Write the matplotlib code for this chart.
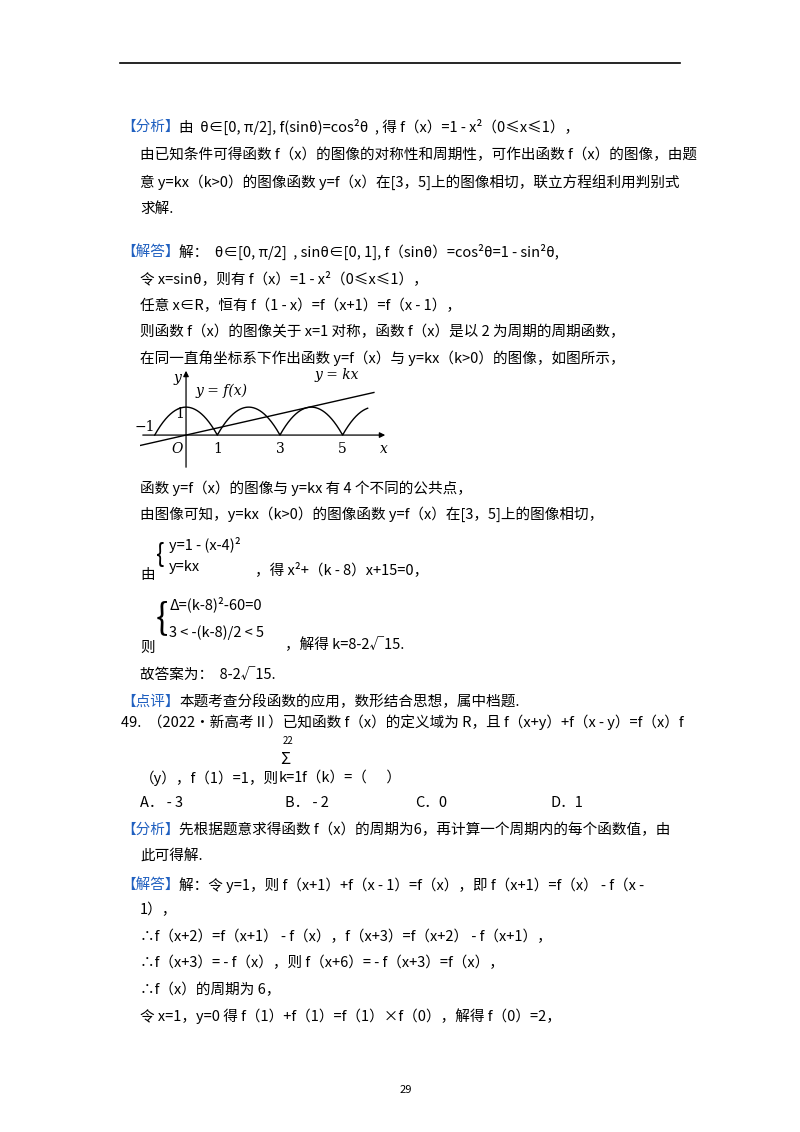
import numpy as np
import matplotlib
matplotlib.use("Agg")
import matplotlib.pyplot as plt

plt.rcParams['font.family'] = ['Noto Sans CJK SC', 'DejaVu Sans']
W, H = 800, 1132
fig = plt.figure(figsize=(8, 11.32), dpi=100)

BLUE = '#2060c0'
FS = 10.5

def T(x, y, s, c='black', fs=FS, **kw):
    fig.text(x / W, 1 - y / H, s, color=c, fontsize=fs, va='center', ha='left', **kw)

def L(x, y, label, rest):
    T(x, y, label, c=BLUE)
    T(x + 58, y, rest)

# top rule
fig.add_artist(plt.Line2D([120 / W, 680 / W], [1 - 63 / H] * 2, color='black', lw=1.2))

lines_labeled = [
    (121, 127, '【分析】', '由  θ∈[0, π/2], f(sinθ)=cos²θ  , 得 f（x）=1 - x²（0≤x≤1），'),
    (121, 252, '【解答】', '解：  θ∈[0, π/2]  , sinθ∈[0, 1], f（sinθ）=cos²θ=1 - sin²θ,'),
    (121, 702, '【点评】', '本题考查分段函数的应用，数形结合思想，属中档题.'),
    (121, 830, '【分析】', '先根据题意求得函数 f（x）的周期为6，再计算一个周期内的每个函数值，由'),
    (121, 885, '【解答】', '解：令 y=1，则 f（x+1）+f（x - 1）=f（x），即 f（x+1）=f（x） - f（x -'),
]
for x, y, a, b in lines_labeled:
    L(x, y, a, b)

plain = [
    (140, 155, '由已知条件可得函数 f（x）的图像的对称性和周期性，可作出函数 f（x）的图像，由题'),
    (140, 182, '意 y=kx（k>0）的图像函数 y=f（x）在[3，5]上的图像相切，联立方程组利用判别式'),
    (140, 209, '求解.'),
    (140, 279, '令 x=sinθ，则有 f（x）=1 - x²（0≤x≤1），'),
    (140, 306, '任意 x∈R，恒有 f（1 - x）=f（x+1）=f（x - 1），'),
    (140, 332, '则函数 f（x）的图像关于 x=1 对称，函数 f（x）是以 2 为周期的周期函数，'),
    (140, 358, '在同一直角坐标系下作出函数 y=f（x）与 y=kx（k>0）的图像，如图所示，'),
    (140, 488, '函数 y=f（x）的图像与 y=kx 有 4 个不同的公共点，'),
    (140, 514, '由图像可知，y=kx（k>0）的图像函数 y=f（x）在[3，5]上的图像相切，'),
    (169, 545, 'y=1 - (x-4)²'),
    (169, 567, 'y=kx'),
    (140, 575, '由'),
    (255, 570, '，得 x²+（k - 8）x+15=0，'),
    (169, 604, 'Δ=(k-8)²-60=0'),
    (169, 633, '3 < -(k-8)/2 < 5'),
    (140, 648, '则'),
    (285, 645, '，解得 k=8-2√15.'),
    (140, 675, '故答案为：  8-2√15.'),
    (121, 722, '49.  （2022•新高考Ⅱ）已知函数 f（x）的定义域为 R，且 f（x+y）+f（x - y）=f（x）f'),
    (140, 778, '（y），f（1）=1，则'),
    (279, 778, 'k=1'),
    (302, 778, 'f（k）=（      ）'),
    (140, 803, 'A． - 3'),
    (285, 803, 'B． - 2'),
    (415, 803, 'C．0'),
    (550, 803, 'D．1'),
    (140, 857, '此可得解.'),
    (140, 910, '1），'),
    (140, 937, '∴f（x+2）=f（x+1） - f（x），f（x+3）=f（x+2） - f（x+1），'),
    (140, 963, '∴f（x+3）= - f（x），则 f（x+6）= - f（x+3）=f（x），'),
    (140, 990, '∴f（x）的周期为 6，'),
    (140, 1016, '令 x=1，y=0 得 f（1）+f（1）=f（1）×f（0），解得 f（0）=2，'),
]
for x, y, s in plain:
    T(x, y, s)
T(283, 741, '22', fs=7)
T(280, 759, 'Σ', fs=12)
T(400, 1090, '29', fs=8)
# braces
T(156, 555, '{', fs=18)
T(156, 618, '{', fs=26)

# ---- graph ----
k = 8 - 2 * np.sqrt(15)
x_min, x_max = -1.47, 6.45
y_min, y_max = -1.25, 2.4
curve_lo, curve_hi = -1.0, 5.8
line_lo, line_hi = -1.5, 6.0
xticks = [1, 3, 5]

ax = fig.add_axes([140 / W, 1 - 470 / H, (388 - 140) / W, (470 - 368) / H])
ax.set_xlim(x_min, x_max)
ax.set_ylim(y_min, y_max)
ax.axis('off')
xs = np.linspace(curve_lo, curve_hi, 800)
fx = 1 - (xs - 2 * np.round(xs / 2)) ** 2
ax.plot(xs, fx, color='black', lw=1)
xl = np.array([line_lo, line_hi])
ax.plot(xl, k * xl, color='black', lw=1)
ax.annotate('', xy=(x_max, 0), xytext=(x_min, 0),
            arrowprops=dict(arrowstyle='-|>', color='black', lw=0.9, mutation_scale=8))
ax.annotate('', xy=(0, y_max), xytext=(0, y_min),
            arrowprops=dict(arrowstyle='-|>', color='black', lw=0.9, mutation_scale=8))
sf = dict(family='DejaVu Serif', fontsize=10)
for t in xticks:
    ax.text(t, -0.25, str(t), ha='center', va='top', **sf)
ax.text(-0.1, -0.25, 'O', ha='right', va='top', style='italic', **sf)
ax.text(-1.0, 0.05, '−1', ha='right', va='bottom', **sf)
ax.text(-0.05, 0.75, '1', ha='right', va='center', **sf)
ax.text(-0.15, y_max - 0.1, 'y', ha='right', va='top', style='italic', **sf)
ax.text(x_max, -0.25, 'x', ha='right', va='top', style='italic', **sf)
ax.text(0.3, 1.45, 'y = f(x)', style='italic', **sf)
ax.text(4.1, 2.0, 'y = kx', style='italic', **sf)

fig.savefig('out.png', dpi=100)
